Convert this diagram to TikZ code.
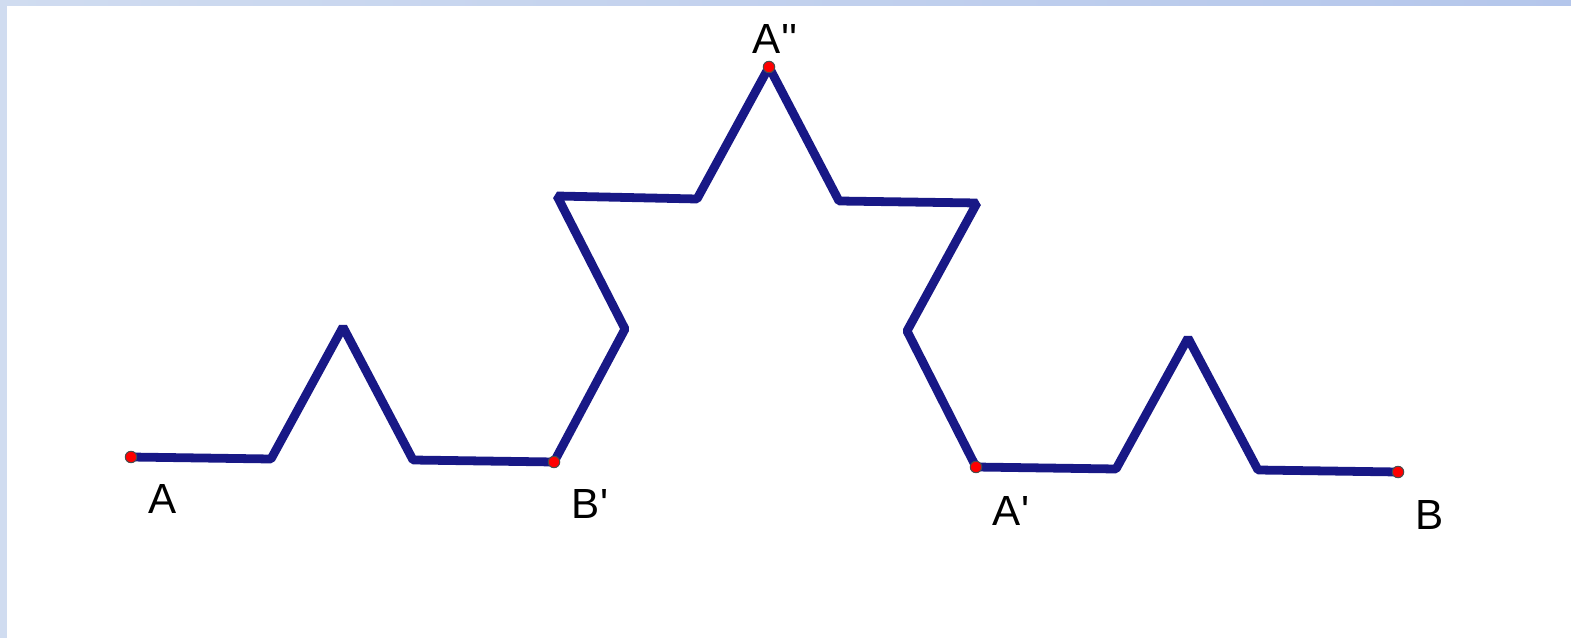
\documentclass[tikz,border=0pt]{standalone}
\usepackage{fontspec}
\setmainfont{Liberation Sans}
\usepackage{xcolor}
\definecolor{kochblue}{RGB}{24,24,134}
\definecolor{frameblue}{RGB}{208,220,240}
\definecolor{frametop}{RGB}{180,198,235}

\begin{document}
\begin{tikzpicture}[x=0.02cm, y=-0.02cm,
    kochline/.style={kochblue, line width=5pt, line join=bevel},
    pt/.style={circle, fill=red, draw=black!70, line width=0.6pt, inner sep=0pt, minimum size=6.5pt},
    lbl/.style={font=\fontsize{24}{24}\selectfont, inner sep=0pt}]
    % Frame
    \useasboundingbox (0,0) rectangle (1571,638);
    \fill[frameblue] (0,0) rectangle (1571,638);
    \shade[left color=frameblue, right color=frametop] (0,0) rectangle (1571,6);
    \fill[white] (7,6) rectangle (1571,638);

    % Corners of the curve
    \coordinate (A) at (131,457);
    \coordinate (p1) at (271,459);
    \coordinate (p2) at (343,327);
    \coordinate (p3) at (413,460);
    \coordinate (Bp) at (554,462);
    \coordinate (p4) at (625,329);
    \coordinate (p5) at (557,196);
    \coordinate (p6) at (697,199);
    \coordinate (App) at (769,67);
    \coordinate (p7) at (839,201);
    \coordinate (p8) at (977,203);
    \coordinate (p9) at (907,331);
    \coordinate (Ap) at (976,467);
    \coordinate (p10) at (1116,469);
    \coordinate (p11) at (1188,338);
    \coordinate (p12) at (1258,470);
    \coordinate (B) at (1398,472);

    % Curve
    \draw[kochline] (A) -- (p1) -- (p2) -- (p3) -- (Bp) -- (p4) -- (p5) -- (p6)
        -- (App) -- (p7) -- (p8) -- (p9) -- (Ap) -- (p10) -- (p11) -- (p12) -- (B);

    % Points
    \node[pt] (dA) at (A) {};
    \node[pt] (dBp) at (Bp) {};
    \node[pt] (dApp) at (App) {};
    \node[pt] (dAp) at (Ap) {};
    \node[pt] (dB) at (B) {};

    % Labels
    \node[lbl] (lA) at (163,499) {A};
    \node[lbl] (lBp) at (590,504) {B\textquotesingle};
    \node[lbl] (lApp) at (775,39) {A\textquotesingle\textquotesingle};
    \node[lbl] (lAp) at (1011,511) {A\textquotesingle};
    \node[lbl] (lB) at (1430,515) {B};
\end{tikzpicture}
\end{document}
